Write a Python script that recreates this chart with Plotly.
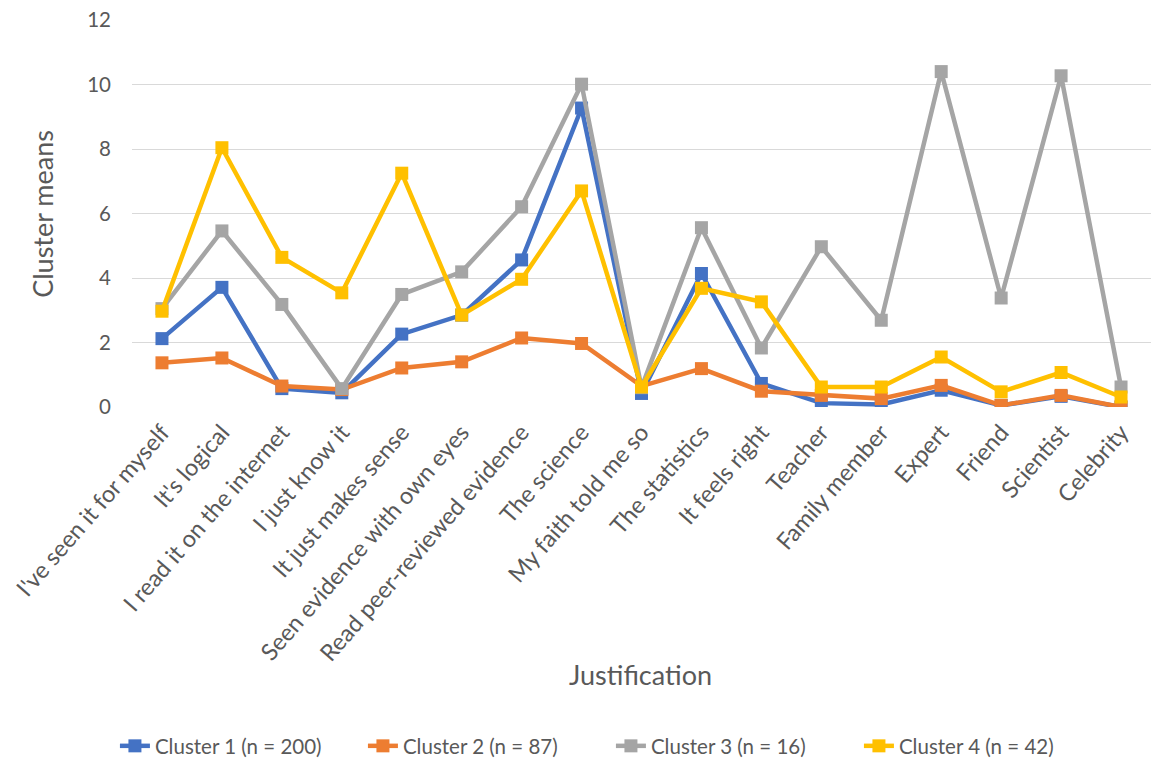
import plotly.graph_objects as go

# Justification categories (x axis)
categories = [
    "I've seen it for myself", "It's logical", "I read it on the internet",
    "I just know it", "It just makes sense", "Seen evidence with own eyes",
    "Read peer-reviewed evidence", "The science", "My faith told me so",
    "The statistics", "It feels right", "Teacher", "Family member",
    "Expert", "Friend", "Scientist", "Celebrity",
]

cluster1 = [2.12, 3.71, 0.57, 0.44, 2.26, 2.85, 4.56, 9.27, 0.42,
            4.14, 0.73, 0.12, 0.08, 0.52, 0.05, 0.33, 0.0]
cluster2 = [1.37, 1.52, 0.65, 0.54, 1.21, 1.40, 2.14, 1.97, 0.65,
            1.19, 0.49, 0.36, 0.26, 0.67, 0.05, 0.36, 0.0]
cluster3 = [3.05, 5.46, 3.18, 0.57, 3.49, 4.19, 6.21, 10.01, 0.60,
            5.56, 1.83, 4.97, 2.69, 10.40, 3.38, 10.27, 0.62]
cluster4 = [2.97, 8.04, 4.64, 3.54, 7.25, 2.85, 3.96, 6.70, 0.62,
            3.68, 3.26, 0.62, 0.62, 1.55, 0.47, 1.07, 0.31]

series_names = ["Cluster 1 (n = 200)", "Cluster 2 (n = 87)",
                "Cluster 3 (n = 16)", "Cluster 4 (n = 42)"]
series_values = [cluster1, cluster2, cluster3, cluster4]
series_colors = ["#4472C4", "#ED7D31", "#A5A5A5", "#FFC000"]

y_ticks = [0, 2, 4, 6, 8, 10, 12]

FONT = "Lato, 'Open Sans', sans-serif"
TEXT = "#595959"

fig = go.Figure()
for name, vals, col in zip(series_names, series_values, series_colors):
    fig.add_trace(go.Scatter(
        x=categories, y=vals, name=name, mode="lines+markers",
        line=dict(color=col, width=4.5),
        marker=dict(symbol="square", size=13, color=col),
    ))

fig.update_layout(
    width=1151, height=765,
    margin=dict(l=132, r=0, t=20, b=358, autoexpand=False),
    paper_bgcolor="white", plot_bgcolor="white",
    font=dict(family=FONT, color=TEXT, size=20),
    showlegend=True,
    legend=dict(orientation="h", x=0.47, xanchor="center",
                y=-0.876, yanchor="middle",
                font=dict(size=20.5, color=TEXT, family=FONT),
                itemwidth=30, tracegroupgap=0,
                entrywidth=203, entrywidthmode="pixels"),
    xaxis=dict(
        type="category", tickangle=-49, showgrid=False,
        showline=False, zeroline=False, ticks="", automargin=False,
        ticklabelstandoff=6,
        tickfont=dict(size=23.5, color=TEXT, family=FONT),
        range=[-0.5, len(categories) - 0.5],
    ),
    yaxis=dict(
        range=[0, 12], tickvals=y_ticks, showgrid=True,
        gridcolor="#D9D9D9", gridwidth=1.3, zeroline=False,
        showline=False, ticks="", ticklabelstandoff=20, automargin=False,
        tickfont=dict(size=20.5, color=TEXT, family=FONT),
    ),
    annotations=[
        dict(text="Justification", xref="paper", yref="paper",
             x=0.499, y=-0.6925, showarrow=False,
             font=dict(size=27, color=TEXT, family=FONT),
             xanchor="center", yanchor="middle"),
        dict(text="Cluster means", xref="paper", yref="paper",
             x=-0.088, y=0.5, textangle=-90, showarrow=False,
             font=dict(size=27, color=TEXT, family=FONT),
             xanchor="center", yanchor="middle"),
    ],
)

fig.write_html("out.html")
